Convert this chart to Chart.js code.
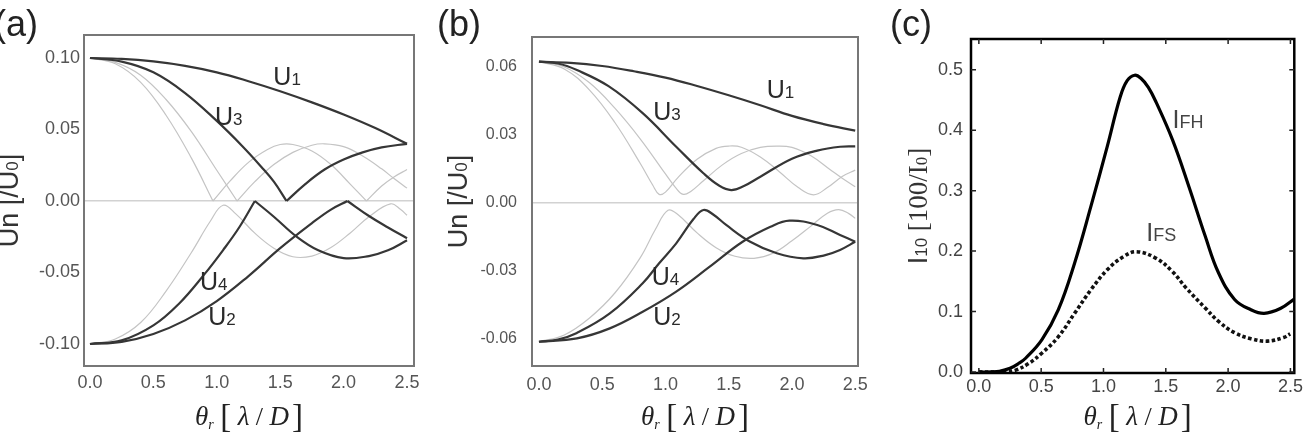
<!DOCTYPE html>
<html><head><meta charset="utf-8">
<script src="https://cdn.jsdelivr.net/npm/chart.js@4.4.1/dist/chart.umd.min.js"></script>
<style>
html,body{margin:0;padding:0;background:#fff;width:1306px;height:433px;overflow:hidden}
.p{position:absolute;top:0;height:433px}
#pa{left:0;width:430px}#pb{left:430px;width:450px}#pc{left:880px;width:426px}
canvas{display:block}
</style></head><body>
<div class="p" id="pa"><canvas id="ca" width="430" height="433"></canvas></div>
<div class="p" id="pb"><canvas id="cb" width="450" height="433"></canvas></div>
<div class="p" id="pc"><canvas id="cc" width="426" height="433"></canvas></div>
<script>
// ---------- tick values / labels ----------
const xTicks = [0, 0.5, 1, 1.5, 2, 2.5];
const xTickLabels = ['0.0','0.5','1.0','1.5','2.0','2.5'];
const yTicksA = [-0.1, -0.05, 0, 0.05, 0.1];
const yLabelsA = ['-0.10','-0.05','0.00','0.05','0.10'];
const yTicksB = [-0.06, -0.03, 0, 0.03, 0.06];
const yLabelsB = ['-0.06','-0.03','0.00','0.03','0.06'];
const yTicksC = [0, 0.1, 0.2, 0.3, 0.4, 0.5];
const yLabelsC = ['0.0','0.1','0.2','0.3','0.4','0.5'];

// ---------- panel (a) series [theta, value] ----------
const aU1 = [[0,0.100],[0.25,0.0994],[0.5,0.0976],[0.75,0.0945],[1.0,0.0900],[1.25,0.0838],[1.5,0.0768],[1.75,0.0690],[2.0,0.0605],[2.25,0.0510],[2.5,0.0400]];
const aU3 = [[0,0.100],[0.25,0.0975],[0.5,0.090],[0.75,0.0755],[1.0,0.056],[1.2,0.0385],[1.35,0.024],[1.45,0.0135],[1.55,0.000],[1.7,0.012],[1.85,0.022],[2.0,0.029],[2.15,0.034],[2.3,0.0375],[2.5,0.040]];
const aU4 = [[0,-0.100],[0.25,-0.0975],[0.5,-0.087],[0.7,-0.072],[0.9,-0.0515],[1.05,-0.0343],[1.18,-0.018],[1.30,0.000],[1.45,-0.011],[1.63,-0.025],[1.8,-0.0345],[2.0,-0.040],[2.2,-0.0385],[2.35,-0.0345],[2.5,-0.0275]];
const aU2 = [[0,-0.100],[0.25,-0.0985],[0.5,-0.093],[0.75,-0.0835],[1.0,-0.070],[1.25,-0.0525],[1.5,-0.033],[1.75,-0.0155],[1.9,-0.006],[2.03,0.000],[2.2,-0.0105],[2.35,-0.0185],[2.5,-0.026]];
const aF1 = [[0,0.100],[0.2,0.096],[0.4,0.083],[0.6,0.060],[0.8,0.030],[0.97,0.000],[1.1,0.0135],[1.25,0.027],[1.4,0.036],[1.5,0.0395],[1.6,0.0395],[1.75,0.035],[1.9,0.0255],[2.05,0.012],[2.18,0.000],[2.3,0.0105],[2.4,0.017],[2.5,0.022]];
const aF2 = [[0,0.100],[0.2,0.097],[0.4,0.088],[0.6,0.071],[0.8,0.0485],[1.0,0.0215],[1.16,0.000],[1.3,0.0135],[1.45,0.0255],[1.6,0.034],[1.75,0.039],[1.85,0.040],[2.0,0.038],[2.15,0.0315],[2.3,0.0225],[2.4,0.0155],[2.5,0.009]];
const aF3 = [[0,-0.100],[0.2,-0.0965],[0.4,-0.085],[0.6,-0.063],[0.8,-0.036],[0.95,-0.014],[1.05,-0.003],[1.15,-0.009],[1.3,-0.0225],[1.45,-0.033],[1.6,-0.039],[1.75,-0.0385],[1.9,-0.0325],[2.05,-0.0225],[2.2,-0.011],[2.37,-0.002],[2.45,-0.006],[2.5,-0.010]];
// cusp positions (theta) where the curves of panel (a) touch zero
const aU3cusps = [1.55];
const aU4cusps = [1.30];
const aU2cusps = [2.03];
const aF1cusps = [0.97, 2.18];
const aF2cusps = [1.16];

// ---------- panel (b) series ----------
const bU1 = [[0,0.0620],[0.25,0.0615],[0.5,0.0601],[0.75,0.0578],[1.0,0.0550],[1.25,0.0513],[1.5,0.0472],[1.75,0.0428],[2.0,0.0381],[2.25,0.0345],[2.5,0.0316]];
const bU3 = [[0,0.0620],[0.15,0.0612],[0.3,0.0583],[0.55,0.0512],[0.82,0.0393],[1.085,0.0245],[1.3,0.0128],[1.42,0.0075],[1.52,0.0054],[1.62,0.0072],[1.75,0.0113],[2.0,0.0192],[2.2,0.0228],[2.38,0.0245],[2.5,0.0247]];
const bU4 = [[0,-0.0615],[0.15,-0.0605],[0.3,-0.0576],[0.56,-0.049],[0.82,-0.0357],[0.95,-0.0269],[1.085,-0.0181],[1.22,-0.0075],[1.30,-0.0034],[1.38,-0.0055],[1.48,-0.0100],[1.67,-0.0174],[1.88,-0.0225],[2.09,-0.0247],[2.25,-0.0235],[2.38,-0.021],[2.5,-0.0174]];
const bU2 = [[0,-0.0615],[0.3,-0.0600],[0.56,-0.0556],[0.82,-0.0483],[1.085,-0.0394],[1.35,-0.0284],[1.61,-0.0174],[1.83,-0.0108],[1.98,-0.0081],[2.2,-0.0100],[2.38,-0.0144],[2.5,-0.0174]];
const bF1 = [[0,0.0620],[0.2,0.0588],[0.4,0.0495],[0.6,0.0352],[0.8,0.0172],[0.9,0.0075],[0.95,0.0035],[1.0,0.0045],[1.1,0.011],[1.25,0.019],[1.4,0.0238],[1.5,0.0248],[1.6,0.0243],[1.75,0.020],[1.9,0.0135],[2.05,0.0065],[2.17,0.0033],[2.28,0.0065],[2.4,0.0115],[2.5,0.0142]];
const bF2 = [[0,0.0620],[0.2,0.0597],[0.4,0.0527],[0.6,0.0415],[0.8,0.028],[1.0,0.0125],[1.08,0.0065],[1.14,0.0035],[1.2,0.0048],[1.3,0.0095],[1.45,0.0165],[1.6,0.0215],[1.75,0.0242],[1.88,0.0248],[2.0,0.0242],[2.15,0.0205],[2.3,0.0145],[2.4,0.0105],[2.5,0.0069]];
const bF3 = [[0,-0.0615],[0.2,-0.0585],[0.4,-0.051],[0.6,-0.040],[0.8,-0.0245],[0.92,-0.012],[1.02,-0.0035],[1.1,-0.0055],[1.25,-0.0135],[1.4,-0.0200],[1.55,-0.0238],[1.7,-0.0247],[1.85,-0.0225],[2.0,-0.0170],[2.15,-0.0105],[2.28,-0.0048],[2.37,-0.0032],[2.45,-0.0050],[2.5,-0.0071]];

// ---------- panel (c) series ----------
const cIFH = [[0,0],[0.1,0],[0.165,0.001],[0.25,0.006],[0.322,0.0144],[0.375,0.0227],[0.505,0.053],[0.637,0.1026],[0.768,0.180],[0.899,0.274],[1.030,0.373],[1.134,0.455],[1.19,0.482],[1.25,0.491],[1.30,0.486],[1.36,0.471],[1.423,0.446],[1.554,0.384],[1.685,0.307],[1.816,0.225],[1.921,0.165],[2.052,0.120],[2.183,0.103],[2.289,0.097],[2.419,0.105],[2.539,0.122]];
const cIFS = [[0,0],[0.15,0],[0.22,0.0005],[0.296,0.003],[0.4,0.014],[0.505,0.031],[0.637,0.058],[0.768,0.097],[0.899,0.136],[1.030,0.169],[1.161,0.191],[1.266,0.199],[1.423,0.188],[1.554,0.166],[1.659,0.140],[1.816,0.106],[1.921,0.084],[2.052,0.065],[2.183,0.055],[2.314,0.051],[2.445,0.057],[2.498,0.063]];

// ---------- curve annotations [subscript, theta, value] ----------
const labA = [['1',1.446,0.0811],['3',0.986,0.0531],['4',0.868,-0.0622],['2',0.933,-0.0867]];
const labB = [['1',1.80,0.0459],['3',0.904,0.0363],['4',0.891,-0.0365],['2',0.904,-0.0541]];
const labC = [['FH',1.554,0.404],['FS',1.344,0.216]];

const SANS = "'Liberation Sans', Arial, sans-serif";
const SERIF = "'Liberation Serif', 'Times New Roman', serif";
const pts = a => a.map(p => ({x:p[0], y:p[1]}));

// split a series into pieces that share the cusp points
function pieces(arr, cusps) {
  const out = []; let cur = [];
  arr.forEach(p => {
    cur.push(p);
    if (cusps.some(c => Math.abs(c - p[0]) < 1e-9)) { out.push(cur); cur = [p]; }
  });
  if (cur.length > 1) out.push(cur);
  return out;
}

function drawRich(ctx, parts, x, y, align, rot, color) {
  const ws = parts.map(p => { ctx.font = p.f; return ctx.measureText(p.t).width; });
  const w = ws.reduce((s,v)=>s+v,0);
  ctx.save();
  ctx.translate(x, y);
  if (rot) ctx.rotate(rot);
  ctx.textBaseline = 'alphabetic';
  ctx.textAlign = 'left';
  let cx = align === 'center' ? -w/2 : 0;
  parts.forEach((p,i) => { ctx.font = p.f; ctx.fillStyle = p.c || color; ctx.fillText(p.t, cx, p.dy||0); cx += ws[i]; });
  ctx.restore();
}

const xTitleParts = [
  {t:'θ', f:'italic 27px '+SERIF},
  {t:'r', f:'italic 14px '+SERIF, dy:4},
  {t:' ', f:'26px '+SERIF},
  {t:'[', f:'33px '+SERIF, dy:2},
  {t:' ', f:'26px '+SERIF},
  {t:'λ', f:'italic 27px '+SERIF},
  {t:' / ', f:'26px '+SERIF},
  {t:'D', f:'italic 27px '+SERIF},
  {t:' ', f:'12px '+SERIF},
  {t:']', f:'33px '+SERIF, dy:2}
];
const yTitleU = [
  {t:'Un [/U', f:'27px '+SANS},
  {t:'0', f:'17px '+SANS},
  {t:']', f:'27px '+SANS}
];
const yTitleI = [
  {t:'I', f:'27px '+SANS},
  {t:'10', f:'17px '+SANS},
  {t:' [100/I', f:'27px '+SERIF},
  {t:'0', f:'17px '+SERIF},
  {t:']', f:'27px '+SERIF}
];

function overlay(cfg) {
  return {
    id: 'overlay',
    afterDraw(chart) {
      const ctx = chart.ctx, ca = chart.chartArea, sx = chart.scales.x, sy = chart.scales.y;
      ctx.save();
      ctx.strokeStyle = cfg.frameColor; ctx.lineWidth = cfg.frameWidth;
      ctx.strokeRect(ca.left, ca.top, ca.right - ca.left, ca.bottom - ca.top);
      if (cfg.innerTicks) {
        ctx.lineWidth = 1.5; ctx.strokeStyle = '#222';
        sx.ticks.forEach(t => { const px = sx.getPixelForValue(t.value);
          ctx.beginPath(); ctx.moveTo(px, ca.top); ctx.lineTo(px, ca.top+5);
          ctx.moveTo(px, ca.bottom); ctx.lineTo(px, ca.bottom-5); ctx.stroke(); });
        sy.ticks.forEach(t => { const py = sy.getPixelForValue(t.value);
          ctx.beginPath(); ctx.moveTo(ca.left, py); ctx.lineTo(ca.left+5, py);
          ctx.moveTo(ca.right, py); ctx.lineTo(ca.right-5, py); ctx.stroke(); });
      }
      drawRich(ctx, [{t:cfg.letter, f:'36px '+SANS}], cfg.letterPos[0], cfg.letterPos[1], 'left', 0, '#222');
      drawRich(ctx, xTitleParts, (ca.left+ca.right)/2 + (cfg.xTitleShift||0), cfg.xTitleBase, 'center', 0, '#222');
      drawRich(ctx, cfg.yTitle, cfg.yTitleBase, (ca.top+ca.bottom)/2, 'center', -Math.PI/2, '#333');
      cfg.labels.forEach(l => {
        const px = sx.getPixelForValue(l[1]), py = sy.getPixelForValue(l[2]);
        drawRich(ctx, [{t:cfg.labelMain, f:'25px '+SANS}, {t:l[0], f:cfg.subFont}], px, py, 'left', 0, cfg.labelColor);
      });
      ctx.restore();
    }
  };
}

function lineDs(arr, color, width, dash) {
  return {data: pts(arr), borderColor: color, borderWidth: width, borderDash: dash || [],
    pointRadius: 0, fill: false, tension: 0.4, borderCapStyle: 'butt', borderJoinStyle: 'round'};
}
function curve(arr, cusps, color, width) {
  return pieces(arr, cusps).map(p => lineDs(p, color, width));
}

function makeChart(id, o) {
  return new Chart(document.getElementById(id), {
    type: 'line',
    data: {datasets: o.datasets},
    options: {
      responsive: false, animation: false, events: [],
      layout: {padding: {left: 0, right: o.padR, top: o.padT, bottom: 0}},
      plugins: {legend: {display: false}, tooltip: {enabled: false}},
      scales: {
        x: {type: 'linear', min: o.xmin, max: o.xmax,
          afterBuildTicks: s => { s.ticks = xTicks.map(v => ({value: v})); },
          afterFit: s => { s.height = o.xAxisH; },
          ticks: {autoSkip: false, maxRotation: 0, padding: o.xPad, color: o.tickColor,
            font: {family: SANS, size: 18}, callback: (v, i) => xTickLabels[i]},
          grid: {display: false, drawTicks: false}, border: {display: false}},
        y: {type: 'linear', min: o.ymin, max: o.ymax,
          afterBuildTicks: s => { s.ticks = o.yTicks.map(v => ({value: v})); },
          afterFit: s => { s.width = o.yAxisW; },
          ticks: {autoSkip: false, padding: o.yPad, color: o.tickColor,
            font: {family: SANS, size: o.yFont}, callback: (v, i) => o.yLabels[i]},
          grid: {drawTicks: false, lineWidth: 1.5,
            color: c => (o.zeroLine && c.tick && Math.abs(c.tick.value) < 1e-9) ? '#d2d2d2' : 'rgba(0,0,0,0)'},
          border: {display: false}}
      }
    },
    plugins: [overlay(o.overlay)]
  });
}

const DARK = '#363636', FAINT = '#c4c4c4';

makeChart('ca', {
  datasets: [...curve(aU1, [], DARK, 2.2), ...curve(aU3, aU3cusps, DARK, 2.2), ...curve(aU4, aU4cusps, DARK, 2.2), ...curve(aU2, aU2cusps, DARK, 2.2),
             ...curve(aF1, aF1cusps, FAINT, 1.2), ...curve(aF2, aF2cusps, FAINT, 1.2), ...curve(aF3, [], FAINT, 1.2)],
  padR: 16, padT: 35, xAxisH: 67, yAxisW: 84,
  xmin: -0.047, xmax: 2.555, ymin: -0.1154, ymax: 0.1161,
  yTicks: yTicksA, yLabels: yLabelsA, yFont: 18, yPad: 4, xPad: 6, tickColor: '#555', zeroLine: true,
  overlay: {frameColor: '#777', frameWidth: 2, letter: '(a)', letterPos: [-6, 36], xTitleBase: 425,
    yTitle: yTitleU, yTitleBase: 18, labels: labA, labelMain: 'U', subFont: '17px '+SANS, labelColor: '#2a2a2a'}
});

makeChart('cb', {
  datasets: [lineDs(bU1, DARK, 2.2), lineDs(bU3, DARK, 2.2), lineDs(bU4, DARK, 2.2), lineDs(bU2, DARK, 2.2),
             lineDs(bF1, FAINT, 1.2), lineDs(bF2, FAINT, 1.2), lineDs(bF3, FAINT, 1.2)],
  padR: 22, padT: 37, xAxisH: 67, yAxisW: 102,
  xmin: -0.055, xmax: 2.522, ymin: -0.0722, ymax: 0.0729,
  yTicks: yTicksB, yLabels: yLabelsB, yFont: 16, yPad: 15, xPad: 8, tickColor: '#555', zeroLine: true,
  overlay: {frameColor: '#777', frameWidth: 2, letter: '(b)', letterPos: [7, 36], xTitleBase: 425,
    yTitle: yTitleU, yTitleBase: 37, labels: labB, labelMain: 'U', subFont: '17px '+SANS, labelColor: '#2a2a2a'}
});

makeChart('cc', {
  datasets: [lineDs(cIFH, '#000', 3.2), lineDs(cIFS, '#111', 3.6, [3.5, 2.5])],
  padR: 5, padT: 39, xAxisH: 60, yAxisW: 91,
  xmin: -0.063, xmax: 2.531, ymin: -0.0017, ymax: 0.551,
  yTicks: yTicksC, yLabels: yLabelsC, yFont: 18, yPad: 8, xPad: 3, tickColor: '#444', zeroLine: false,
  overlay: {frameColor: '#000', frameWidth: 2.5, innerTicks: true, letter: '(c)', letterPos: [10, 36], xTitleBase: 425, xTitleShift: 5,
    yTitle: yTitleI, yTitleBase: 47, labels: labC, labelMain: 'I', subFont: '18px '+SANS, labelColor: '#444'}
});
</script>
</body></html>
